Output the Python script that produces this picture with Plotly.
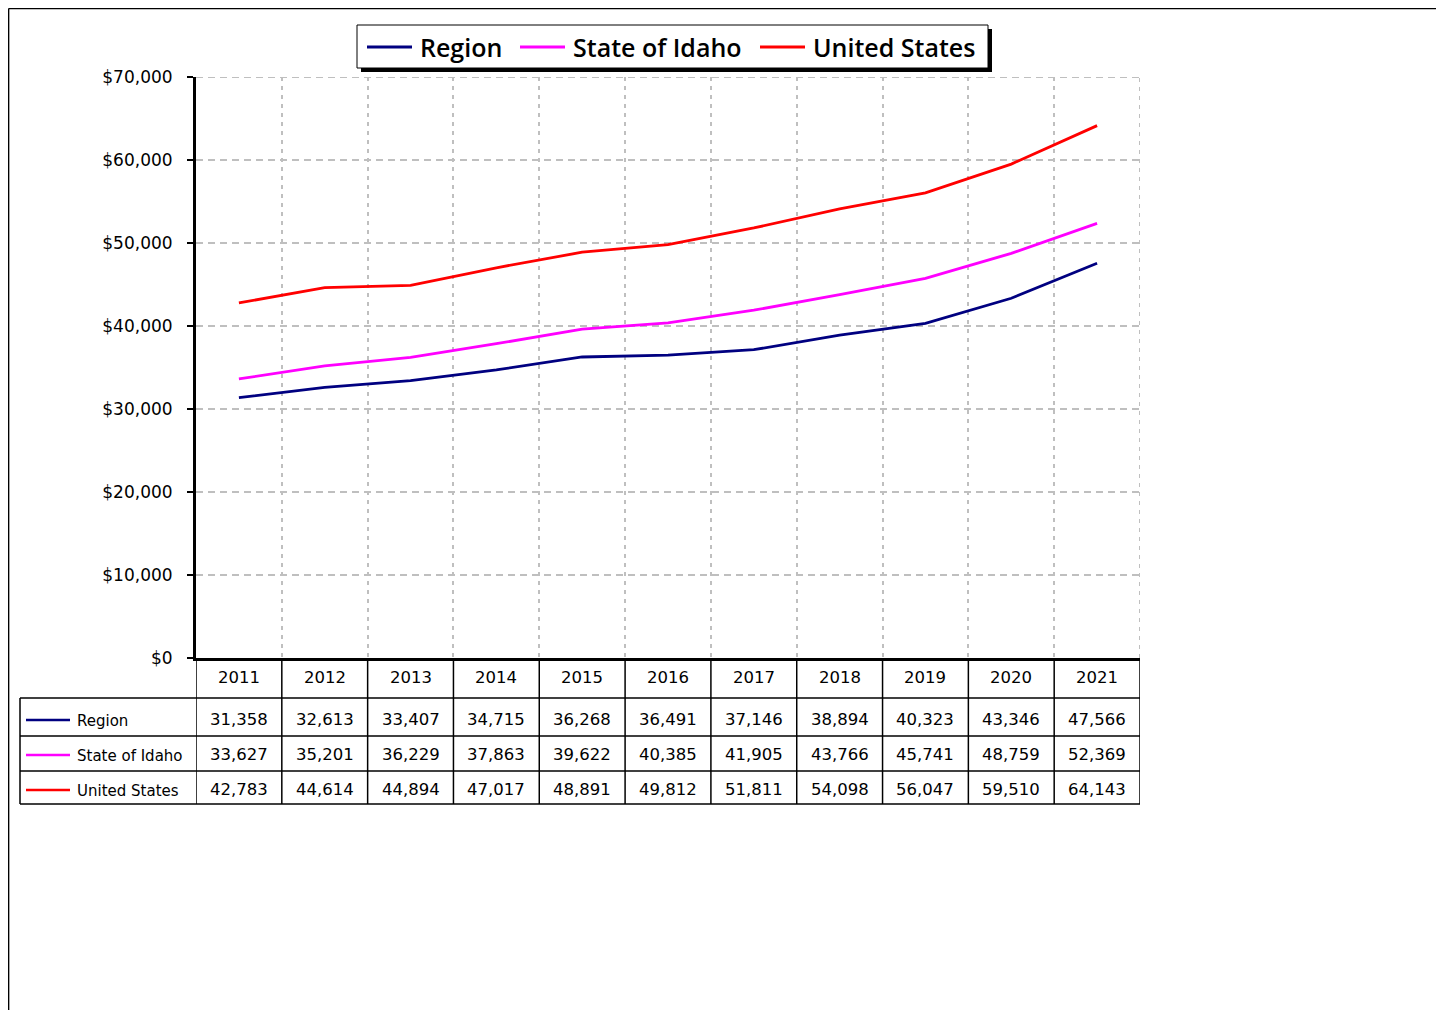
import plotly.graph_objects as go

years = ["2011", "2012", "2013", "2014", "2015", "2016", "2017", "2018", "2019", "2020", "2021"]
series_names = ["Region", "State of Idaho", "United States"]
region = [31358, 32613, 33407, 34715, 36268, 36491, 37146, 38894, 40323, 43346, 47566]
idaho = [33627, 35201, 36229, 37863, 39622, 40385, 41905, 43766, 45741, 48759, 52369]
usa = [42783, 44614, 44894, 47017, 48891, 49812, 51811, 54098, 56047, 59510, 64143]
y_max = 70000
y_step = 10000
colors = ["#000080", "#FF00FF", "#FF0000"]
series_values = [region, idaho, usa]

W, H = 1444, 1010
OFF = 8  # page body margin
NUMFONT = "DejaVu Sans"
LEGFONT = "Open Sans"
GRID = "#BFBFBF"
HDASH = "7px,5px"
VDASH = "4px,5px"


def px(p):
    return (p - OFF) / W


def py(p):
    return 1 - (p - OFF) / H


fig = go.Figure()
for name, vals, col in zip(series_names, series_values, colors):
    fig.add_trace(go.Scatter(x=years, y=vals, name=name, mode="lines",
                             line=dict(color=col, width=2.8), showlegend=False))

shapes = []
annotations = []
n = len(years)

# grid lines at the plot edges (top and right)
shapes.append(dict(type="line", xref="x", yref="y", x0=-0.5, x1=n - 0.5, y0=y_max, y1=y_max,
                   line=dict(color=GRID, width=2, dash=HDASH), layer="below"))
shapes.append(dict(type="line", xref="x", yref="y", x0=n - 0.5, x1=n - 0.5, y0=0, y1=y_max,
                   line=dict(color=GRID, width=2, dash=VDASH), layer="below"))

# outer frame (top and left)
shapes.append(dict(type="line", xref="paper", yref="paper", x0=0.6 / W, x1=1.0, y0=1 - 0.6 / H, y1=1 - 0.6 / H,
                   line=dict(color="black", width=1.5)))
shapes.append(dict(type="line", xref="paper", yref="paper", x0=0.6 / W, x1=0.6 / W, y0=1 - 0.6 / H, y1=0,
                   line=dict(color="black", width=1.5)))

# legend box with shadow
leg_l, leg_r, leg_t, leg_b = 357, 988, 25, 68
shapes.append(dict(type="rect", xref="paper", yref="paper", x0=px(leg_l + 4), x1=px(leg_r + 4),
                   y0=py(leg_t + 4), y1=py(leg_b + 4), fillcolor="black", line=dict(width=0)))
shapes.append(dict(type="rect", xref="paper", yref="paper", x0=px(leg_l), x1=px(leg_r),
                   y0=py(leg_t), y1=py(leg_b), fillcolor="white", line=dict(color="black", width=1)))
leg_line_x = [367, 520, 760]
leg_yc = 47
for name, col, lx in zip(series_names, colors, leg_line_x):
    shapes.append(dict(type="line", xref="paper", yref="paper", x0=px(lx), x1=px(lx + 45),
                       y0=py(leg_yc), y1=py(leg_yc), line=dict(color=col, width=2.8)))
    annotations.append(dict(x=px(lx + 51), y=py(leg_yc), xref="paper", yref="paper", text=name,
                            showarrow=False, xanchor="left", yanchor="middle",
                            font=dict(family=LEGFONT, size=25, color="black", weight=600)))

# data table
header_top, header_bot = 658, 698
row_bounds = [698, 736, 771, 804]
row_centers = [719, 754, 789]
tab_left = 20
lc = dict(color="black", width=1.5)
for i in range(n + 1):
    b = i - 0.5
    shapes.append(dict(type="line", xref="x", yref="paper", x0=b, x1=b, y0=py(header_top), y1=py(row_bounds[-1]),
                       line=lc))
for rb in row_bounds:
    shapes.append(dict(type="line", xref="paper", yref="paper", x0=px(tab_left), x1=px(1140), y0=py(rb), y1=py(rb),
                       line=lc))
shapes.append(dict(type="line", xref="paper", yref="paper", x0=px(tab_left), x1=px(tab_left),
                   y0=py(row_bounds[0]), y1=py(row_bounds[-1]), line=lc))

for i, yr in enumerate(years):
    annotations.append(dict(x=i, y=py(677), xref="x", yref="paper", text=yr,
                            showarrow=False, font=dict(family=NUMFONT, size=16.5, color="black"),
                            xanchor="center", yanchor="middle"))
for r, (name, vals, col) in enumerate(zip(series_names, series_values, colors)):
    yc = row_centers[r]
    shapes.append(dict(type="line", xref="paper", yref="paper", x0=px(26), x1=px(70), y0=py(yc + 1), y1=py(yc + 1),
                       line=dict(color=col, width=2.5)))
    annotations.append(dict(x=px(75), y=py(yc + 2), xref="paper", yref="paper", text=name, showarrow=False,
                            font=dict(family=NUMFONT, size=15, color="black"), xanchor="left", yanchor="middle"))
    for i, v in enumerate(vals):
        annotations.append(dict(x=i, y=py(yc), xref="x", yref="paper", text=f"{v:,}", showarrow=False,
                                font=dict(family=NUMFONT, size=16.5, color="black"), xanchor="center",
                                yanchor="middle"))

fig.update_layout(
    width=W, height=H, autosize=False,
    margin=dict(l=0, r=0, t=0, b=0, pad=0),
    paper_bgcolor="white", plot_bgcolor="white",
    showlegend=False,
    xaxis=dict(domain=[px(196), px(1140)], type="category", range=[-0.5, n - 0.5],
               tickson="boundaries", showgrid=True, gridcolor=GRID, griddash=VDASH, gridwidth=2,
               showticklabels=False, ticks="", showline=True, linecolor="black", linewidth=3,
               zeroline=False, fixedrange=True, automargin=False),
    yaxis=dict(domain=[py(658), py(77)], range=[0, y_max], dtick=y_step, tickformat="$,.0f",
               showgrid=True, gridcolor=GRID, griddash=HDASH, gridwidth=2,
               showline=True, linecolor="black", linewidth=3, ticks="outside", ticklen=6,
               tickcolor="black", tickwidth=2, zeroline=False, automargin=False, fixedrange=True,
               tickfont=dict(family=NUMFONT, size=17, color="black"), ticklabelstandoff=11),
    shapes=shapes,
    annotations=annotations,
)

fig.write_html("out.html")
